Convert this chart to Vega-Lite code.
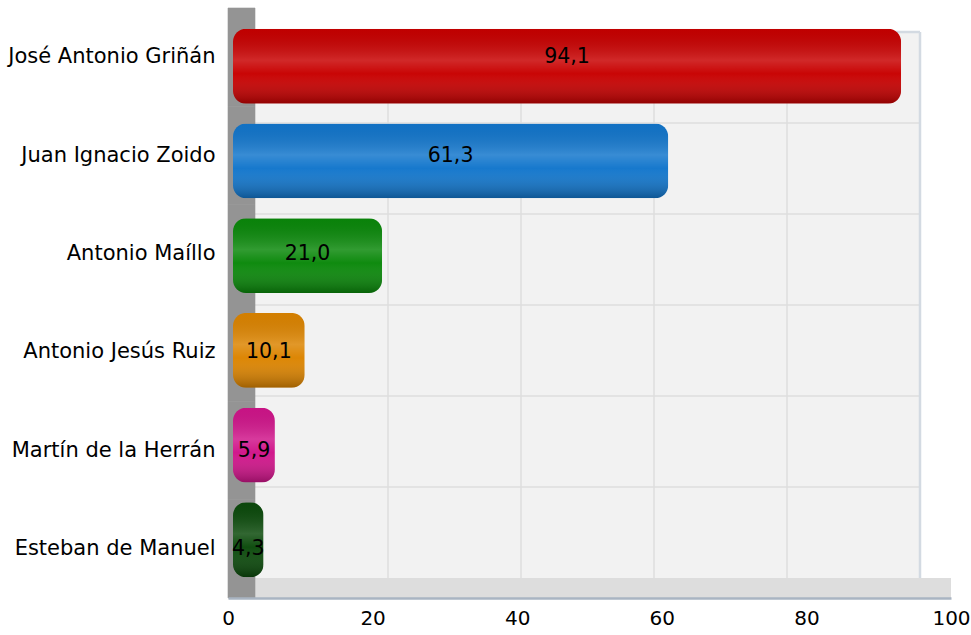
{
  "$schema": "https://vega.github.io/schema/vega-lite/v6.json",
  "width": 725,
  "height": 590,
  "autosize": {"type": "none"},
  "padding": {"left": 228, "top": 8, "right": 18, "bottom": 37},
  "background": "white",
  "config": {
    "view": {"stroke": null},
    "font": "DejaVu Sans",
    "locale": {"number": {"decimal": ",", "thousands": ".", "grouping": [3], "currency": ["", " €"]}}
  },
  "data": {"values": [
    {"name": "José Antonio Griñán", "v": 94.1},
    {"name": "Juan Ignacio Zoido", "v": 61.3},
    {"name": "Antonio Maíllo", "v": 21.0},
    {"name": "Antonio Jesús Ruiz", "v": 10.1},
    {"name": "Martín de la Herrán", "v": 5.9},
    {"name": "Esteban de Manuel", "v": 4.3}
  ]},
  "resolve": {"scale": {"x": "independent", "y": "independent"}},
  "layer": [
    {
      "data": {"values": [{}]},
      "mark": {"type": "rect", "fill": "#f2f2f2"},
      "encoding": {
        "x": {"datum": 0, "type": "quantitative", "scale": {"domain": [0, 100], "range": [27, 692]}, "axis": null},
        "x2": {"datum": 100},
        "y": {"datum": 0, "type": "quantitative", "scale": {"domain": [0, 6], "range": [570, 24]}, "axis": null},
        "y2": {"datum": 6}
      }
    },
    {
      "data": {"values": [{"g": 20}, {"g": 40}, {"g": 60}, {"g": 80}]},
      "mark": {"type": "rule", "color": "#dedede", "strokeWidth": 1.5},
      "encoding": {
        "x": {"field": "g", "type": "quantitative", "scale": {"domain": [0, 100], "range": [27, 692]}, "axis": null},
        "y": {"datum": 0, "type": "quantitative", "scale": {"domain": [0, 6], "range": [570, 24]}, "axis": null},
        "y2": {"datum": 6}
      }
    },
    {
      "data": {"values": [{"h": 1}, {"h": 2}, {"h": 3}, {"h": 4}, {"h": 5}]},
      "mark": {"type": "rule", "color": "#dedede", "strokeWidth": 1.5},
      "encoding": {
        "y": {"field": "h", "type": "quantitative", "scale": {"domain": [0, 6], "range": [570, 24]}, "axis": null},
        "x": {"datum": 0, "type": "quantitative", "scale": {"domain": [0, 100], "range": [27, 692]}, "axis": null},
        "x2": {"datum": 100}
      }
    },
    {
      "data": {"values": [{}]},
      "mark": {"type": "rule", "color": "#d3dae2", "strokeWidth": 2.5},
      "encoding": {
        "x": {"datum": 100, "type": "quantitative", "scale": {"domain": [0, 100], "range": [27, 692]}, "axis": null},
        "y": {"datum": 0, "type": "quantitative", "scale": {"domain": [0, 6], "range": [570, 24]}, "axis": null},
        "y2": {"datum": 6}
      }
    },
    {
      "data": {"values": [{}]},
      "mark": {"type": "rule", "color": "#d3dae2", "strokeWidth": 2.5},
      "encoding": {
        "y": {"datum": 6, "type": "quantitative", "scale": {"domain": [0, 6], "range": [570, 24]}, "axis": null},
        "x": {"datum": 0, "type": "quantitative", "scale": {"domain": [0, 100], "range": [27, 692]}, "axis": null},
        "x2": {"datum": 100}
      }
    },
    {
      "data": {"values": [{}]},
      "mark": {"type": "rect", "fill": "#dddddd"},
      "encoding": {
        "x": {"datum": 0, "type": "quantitative", "scale": {"domain": [0, 100], "range": [0, 723]},
          "axis": {"title": null, "values": [0, 20, 40, 60, 80, 100], "grid": false, "ticks": false,
            "domainColor": "#a9b4c2", "domainWidth": 2.5, "labelFontSize": 20, "labelColor": "#000000",
            "labelPadding": 10, "labelFont": "DejaVu Sans", "zindex": 1, "labelFlush": false}},
        "x2": {"datum": 100},
        "y": {"datum": 0, "type": "quantitative", "scale": {"domain": [0, 1], "range": [590, 570]}, "axis": null},
        "y2": {"datum": 1}
      }
    },
    {
      "mark": {"type": "rect", "fill": "#949494", "stroke": "#949494", "strokeWidth": 0.6},
      "encoding": {
        "x": {"datum": 0, "type": "quantitative", "scale": {"domain": [0, 1], "range": [0, 27]}, "axis": null},
        "x2": {"datum": 1},
        "y": {"field": "name", "type": "nominal", "sort": null, "scale": {"paddingInner": 0, "paddingOuter": 0},
          "axis": {"title": null, "ticks": false, "domain": false, "labelFontSize": 21, "labelColor": "#000000",
            "labelPadding": 13, "labelFont": "DejaVu Sans", "labelLimit": 260}}
      }
    },
    {
      "mark": {"type": "bar", "cornerRadius": 13},
      "encoding": {
        "x": {"field": "v", "type": "quantitative", "scale": {"domain": [0, 100], "range": [5, 715]}, "axis": null},
        "y": {"field": "name", "type": "nominal", "sort": null, "scale": {"paddingInner": 0.21, "paddingOuter": 0.22}, "axis": null},
        "color": {"field": "name", "type": "nominal", "sort": null, "legend": null,
          "scale": {"domain": ["José Antonio Griñán", "Juan Ignacio Zoido", "Antonio Maíllo", "Antonio Jesús Ruiz", "Martín de la Herrán", "Esteban de Manuel"],
            "range": ["#c80000", "#1276cc", "#0a880a", "#dc8400", "#d0148a", "#0b4a0b"]}}
      }
    },
    {
      "mark": {"type": "bar", "cornerRadius": 13,
        "fill": {"gradient": "linear", "x1": 0, "y1": 0, "x2": 0, "y2": 1,
          "stops": [
            {"offset": 0, "color": "rgba(0,0,0,0.04)"},
            {"offset": 0.42, "color": "rgba(255,255,255,0.16)"},
            {"offset": 0.6, "color": "rgba(255,255,255,0.02)"},
            {"offset": 1, "color": "rgba(0,0,0,0.28)"}
          ]}},
      "encoding": {
        "x": {"field": "v", "type": "quantitative", "scale": {"domain": [0, 100], "range": [5, 715]}, "axis": null},
        "y": {"field": "name", "type": "nominal", "sort": null, "scale": {"paddingInner": 0.21, "paddingOuter": 0.22}, "axis": null}
      }
    },
    {
      "transform": [{"calculate": "datum.v / 2", "as": "mid"}],
      "mark": {"type": "text", "fontSize": 20.5, "color": "#000000", "font": "DejaVu Sans"},
      "encoding": {
        "x": {"field": "mid", "type": "quantitative", "scale": {"domain": [0, 100], "range": [5, 715]}, "axis": null},
        "y": {"field": "name", "type": "nominal", "sort": null, "scale": {"paddingInner": 0.21, "paddingOuter": 0.22}, "axis": null},
        "text": {"field": "v", "type": "quantitative", "format": ".1f"}
      }
    }
  ]
}
